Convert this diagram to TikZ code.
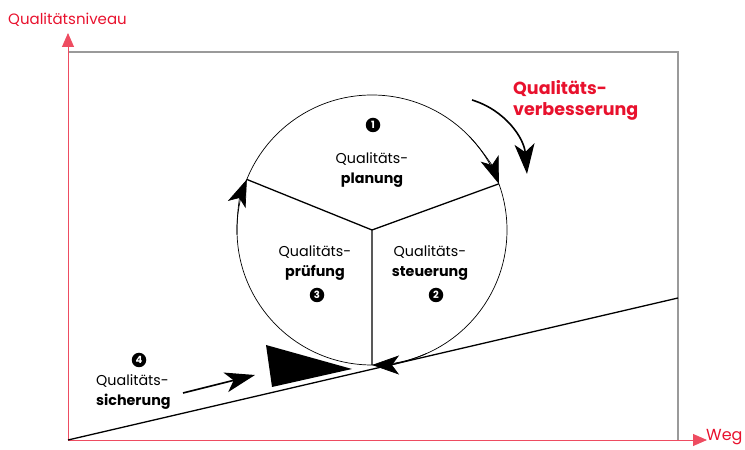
\documentclass[tikz,border=0pt]{standalone}
\usepackage{fontspec}
\setmainfont{Poppins}
\usetikzlibrary{arrows.meta,calc}
\definecolor{qred}{HTML}{E8112D}
\definecolor{framegray}{HTML}{9A9A9A}
\tikzset{
  lbl/.style={font=\fontsize{14.3}{20}\selectfont, align=center, inner sep=0pt},
  redlbl/.style={text=qred, inner sep=0pt},
  num/.style={circle, fill=black, text=white, inner sep=0pt, minimum size=14.5pt, font=\fontsize{10}{10}\selectfont\bfseries},
  axis/.style={draw=qred!75, line width=0.9pt, arrows={-Triangle[length=14pt,width=12pt]}},
  circarrow/.style={line width=0.7pt, arrows={-Stealth[length=27pt,width=19pt,inset=7pt]}},
  blackarrow/.style={line width=1.6pt, arrows={-Stealth[length=30pt,width=20pt,inset=8pt]}},
}
\begin{document}
\begin{tikzpicture}[x=1pt,y=1pt]
\useasboundingbox (0,0) rectangle (745,450);
% frame
\coordinate (O) at (68,10);
\coordinate (TL) at (68,398);
\coordinate (TR) at (678,398);
\coordinate (BR) at (678,10);
\coordinate (YT) at (68,417);
\coordinate (XR) at (707,10);
\draw[framegray, line width=1.1pt] (TL) -- (TR) -- (BR);
\draw[axis] (O) -- (YT);
\draw[axis] (O) -- (XR);
\node[redlbl, font=\fontsize{15}{15}\selectfont, anchor=west] (ylab) at (8,430) {Qualitätsniveau};
\node[redlbl, font=\fontsize{16}{16}\selectfont, anchor=west] (xlab) at (706,13) {Weg};
% slope
\coordinate (S2) at (678,152);
\draw[line width=1.3pt] (O) -- (S2);
% circle
\coordinate (C) at (372,220);
\draw[line width=0.7pt] (C) circle[radius=135];
\coordinate (P1) at ($(C)+(158:135)$);
\coordinate (P2) at ($(C)+(20:135)$);
\coordinate (P3) at ($(C)+(270:135)$);
\draw[line width=1.3pt] (C) -- (P1) (C) -- (P2) (C) -- (P3);
\draw[circarrow] ($(C)+(182:135)$) arc[start angle=182, end angle=158, radius=135];
\draw[circarrow] ($(C)+(44:135)$) arc[start angle=44, end angle=20, radius=135];
\draw[circarrow] ($(C)+(294:135)$) arc[start angle=294, end angle=270, radius=135];
% labels
\node[lbl] (plan) at (372,280) {Qualitäts-\\\textbf{planung}};
\node[lbl] (pruef) at (315,187) {Qualitäts-\\\textbf{prüfung}};
\node[lbl] (steu) at (430,187) {Qualitäts-\\\textbf{steuerung}};
\node[lbl, align=left, anchor=north west] (sich) at (96,76) {Qualitäts-\\\textbf{sicherung}};
\node[num] (n1) at (373,325) {1};
\node[num] (n2) at (436,155) {2};
\node[num] (n3) at (317,155) {3};
\node[num] (n4) at (139,90) {4};
% wedge
\coordinate (W1) at (266,105);
\coordinate (W2) at (272,63);
\coordinate (W3) at (352,81);
\fill (W1) -- (W2) -- (W3) -- cycle;
% small arrow
\coordinate (A1) at (183,57);
\coordinate (A2) at (255,75);
\draw[blackarrow] (A1) -- (A2);
% improvement arrow
\coordinate (B1) at (472,350);
\coordinate (B2) at (527,276);
\draw[blackarrow] (B1) .. controls (505,340) and (524,312) .. (B2);
\node[redlbl, font=\fontsize{17.5}{21}\selectfont\bfseries, align=left, anchor=north west] (verb) at (513,370) {Qualitäts-\\verbesserung};
\end{tikzpicture}
\end{document}
